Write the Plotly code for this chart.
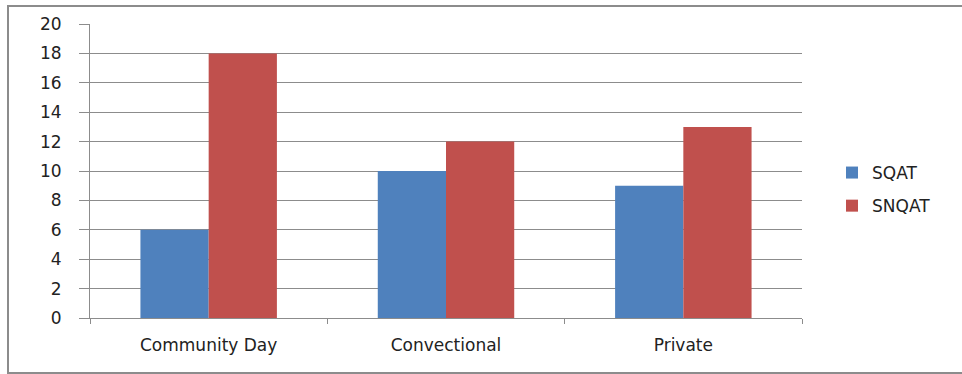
import plotly.graph_objects as go

categories = ["Community Day", "Convectional", "Private"]
sqat = [6, 10, 9]
snqat = [18, 12, 13]
y_ticks = [0, 2, 4, 6, 8, 10, 12, 14, 16, 18, 20]

W, H = 962, 374
L, R, T, B = 90, 160, 24, 56
pw, ph = W - L - R, H - T - B

def px_x(px):
    return (px - L) / pw

def px_y(py):
    return (H - B - py) / ph

font = dict(family="DejaVu Sans", size=17, color="#222222")

fig = go.Figure()
fig.add_trace(go.Bar(name="SQAT", x=categories, y=sqat, marker_color="#4F81BD",
                     marker_line_width=0, legendgroup="a"))
fig.add_trace(go.Bar(name="SNQAT", x=categories, y=snqat, marker_color="#C0504D",
                     marker_line_width=0, legendgroup="b"))

fig.update_layout(
    width=W, height=H,
    margin=dict(l=L, r=R, t=T, b=B),
    paper_bgcolor="white", plot_bgcolor="white",
    barmode="group", bargap=0.425, bargroupgap=0,
    font=font,
    legend=dict(x=px_x(832), y=px_y(155), xanchor="left", yanchor="top",
                font=dict(family="DejaVu Sans", size=17, color="#222222"),
                itemwidth=30, tracegroupgap=8),
    showlegend=True,
    shapes=[dict(type="rect", xref="paper", yref="paper",
                 x0=px_x(8), x1=px_x(975), y0=px_y(373), y1=px_y(6),
                 line=dict(color="#8c8c8c", width=2), fillcolor="rgba(0,0,0,0)",
                 layer="below")],
)
fig.update_xaxes(
    showline=True, linecolor="#8c8c8c", linewidth=1,
    ticks="outside", tickson="boundaries", ticklen=5, tickcolor="#8c8c8c",
    showgrid=False, tickfont=font, ticklabelstandoff=12,
)
fig.update_yaxes(
    range=[0, 20], tickvals=y_ticks,
    showline=True, linecolor="#8c8c8c", linewidth=1,
    ticks="outside", ticklen=10, tickcolor="#8c8c8c",
    showgrid=True, gridcolor="#8c8c8c", gridwidth=1,
    zeroline=False, tickfont=font, ticklabelstandoff=14,
)

fig.write_html("out.html")
